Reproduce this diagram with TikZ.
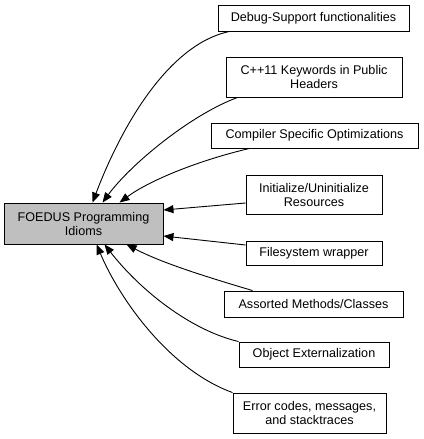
\documentclass[tikz,border=0pt]{standalone}
\usepackage{fontspec}
\setmainfont{Liberation Sans}
\usetikzlibrary{arrows.meta}
\begin{document}
\begin{tikzpicture}[x=1pt,y=-1pt,
  box/.style={draw=black,line width=0.9pt,fill=white,inner sep=0pt,align=center,font=\fontsize{12.6}{14}\selectfont},
  mainbox/.style={box,fill=black!25},
  link/.style={draw=black,line width=0.9pt,-{Triangle[length=10pt,width=8pt]}}]
\useasboundingbox (0,0) rectangle (423,439);
\node[mainbox,minimum width=159pt,minimum height=41pt] (main) at (83.5,223.5) {FOEDUS Programming\\Idioms};
\node[box,minimum width=191pt,minimum height=26pt] (debug) at (313.5,18) {Debug-Support functionalities};
\node[box,minimum width=176pt,minimum height=40pt] (cpp) at (314,77) {C++11 Keywords in Public\\Headers};
\node[box,minimum width=207pt,minimum height=25pt] (comp) at (314.5,135.5) {Compiler Specific Optimizations};
\node[box,minimum width=136pt,minimum height=39pt] (init) at (314,194.5) {Initialize/Uninitialize\\Resources};
\node[box,minimum width=136pt,minimum height=24pt] (fs) at (314,253) {Filesystem wrapper};
\node[box,minimum width=179pt,minimum height=26pt] (asrt) at (313.5,304) {Assorted Methods/Classes};
\node[box,minimum width=150pt,minimum height=25pt] (obj) at (314,354.5) {Object Externalization};
\node[box,minimum width=153pt,minimum height=40pt] (err) at (309.5,413) {Error codes, messages,\\and stacktraces};
\draw[link] ([xshift=12pt]debug.south west) .. controls (165,45) and (118,135) .. ([xshift=89pt]main.north west);
\draw[link] ([xshift=12pt]cpp.south west) .. controls (190,115) and (130,165) .. ([xshift=99pt]main.north west);
\draw[link] ([xshift=39pt]comp.south west) .. controls (200,160) and (150,180) .. ([xshift=116pt]main.north west);
\draw[link] ([yshift=-8.5pt]init.west) -- ([yshift=13.5pt]main.east);
\draw[link] ([yshift=8pt]fs.west) -- ([yshift=-12.5pt]main.east);
\draw[link] ([xshift=29pt]asrt.north west) .. controls (200,275) and (160,262) .. ([xshift=123pt]main.south west);
\draw[link] (obj.north west) .. controls (190,330) and (140,290) .. ([xshift=101pt]main.south west);
\draw[link] (err.north west) .. controls (170,370) and (120,300) .. ([xshift=93pt]main.south west);
\end{tikzpicture}
\end{document}
